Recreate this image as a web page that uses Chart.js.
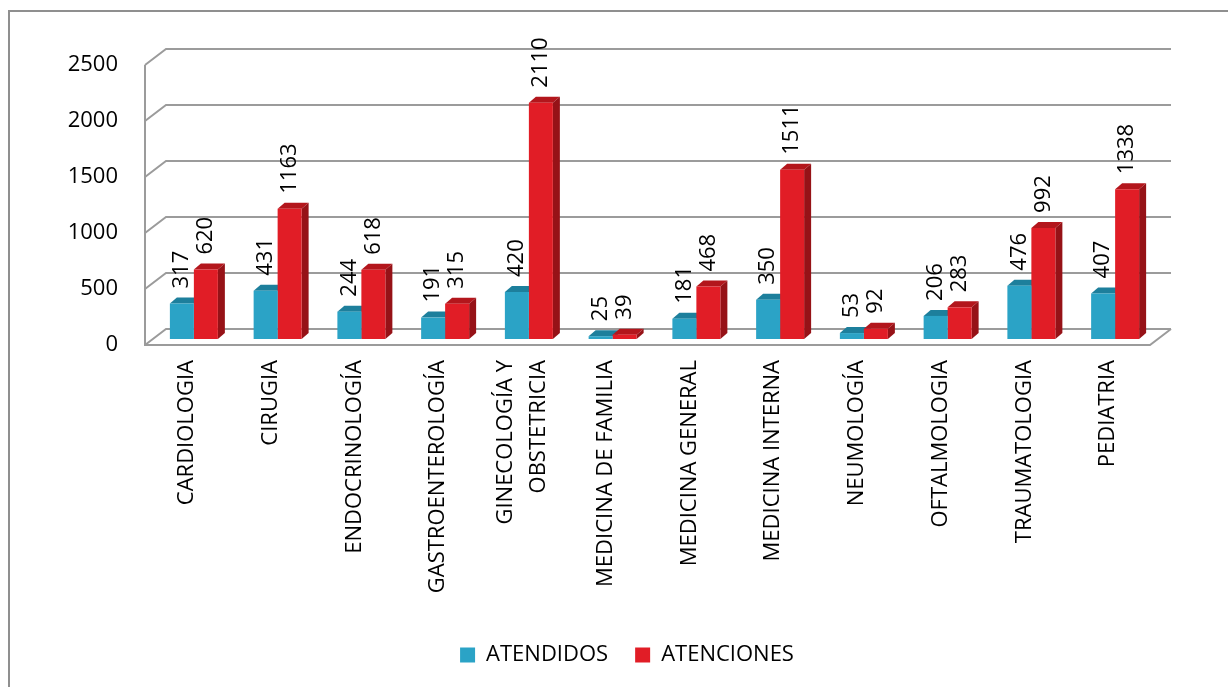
<!DOCTYPE html>
<html>
<head>
<meta charset="utf-8">
<script src="https://cdn.jsdelivr.net/npm/chart.js@4.4.0/dist/chart.umd.min.js"></script>
<style>
  html, body { margin: 0; padding: 0; background: #fff; }
  canvas { display: block; }
</style>
</head>
<body>
<canvas id="grafico" width="1228" height="687"></canvas>
<script>
// Datos por especialidad
const especialidades = ['CARDIOLOGIA', 'CIRUGIA', 'ENDOCRINOLOGÍA', 'GASTROENTEROLOGÍA', ['GINECOLOGÍA Y', 'OBSTETRICIA'], 'MEDICINA DE FAMILIA', 'MEDICINA GENERAL', 'MEDICINA INTERNA', 'NEUMOLOGÍA', 'OFTALMOLOGIA', 'TRAUMATOLOGIA', 'PEDIATRIA'];
const atendidos = [317, 431, 244, 191, 420, 25, 181, 350, 53, 206, 476, 407];
const atenciones = [620, 1163, 618, 315, 2110, 39, 468, 1511, 92, 283, 992, 1338];
const ticksY = [0, 500, 1000, 1500, 2000, 2500];

const FUENTE = '"Open Sans", "DejaVu Sans", sans-serif';

// Profundidad de las paredes y de las barras (efecto 3D)
const PARED = { dx: 21, dy: -16 };
const BARRA = { dx: 7, dy: -6 };

// Marco gris, posición de la leyenda y etiquetas de dos líneas
const marco = {
    id: 'marco',
    afterLayout(chart) {
        // centrar la leyenda bajo el área de las barras
        chart.legend.left += 32;
        chart.legend.right += 32;
    },
    beforeDraw(chart) {
        const ctx = chart.ctx;
        ctx.save();
        ctx.strokeStyle = '#8f8f8f';
        ctx.lineWidth = 2;
        ctx.beginPath();
        ctx.moveTo(9, chart.height);
        ctx.lineTo(9, 11);
        ctx.lineTo(chart.width, 11);
        ctx.stroke();
        ctx.restore();

        // las etiquetas de dos líneas se centran sobre su categoría
        const x = chart.scales.x;
        x.getLabelItems().forEach(item => {
            if (Array.isArray(item.label) && item.label.length > 1) {
                item.options.translation[0] -= (item.label.length - 1) * item.font.lineHeight / 2;
            }
        });
    }
};

// Paredes, piso, caras laterales y etiquetas de valor
const barras3d = {
    id: 'barras3d',
    beforeDatasetsDraw(chart) {
        const ctx = chart.ctx;
        const a = chart.chartArea;
        const y = chart.scales.y;

        ctx.save();
        ctx.strokeStyle = '#9b9b9b';
        ctx.lineWidth = 2;
        ticksY.forEach(v => {
            const py = y.getPixelForValue(v);
            ctx.beginPath();
            ctx.moveTo(a.left, py);
            ctx.lineTo(a.left + PARED.dx, py + PARED.dy);
            ctx.lineTo(a.right + PARED.dx, py + PARED.dy);
            ctx.stroke();
        });
        ctx.beginPath();
        ctx.moveTo(a.left, y.getPixelForValue(ticksY[ticksY.length - 1]));
        ctx.lineTo(a.left, a.bottom);
        ctx.lineTo(a.right, a.bottom);
        ctx.lineTo(a.right + PARED.dx, a.bottom + PARED.dy);
        ctx.stroke();
        ctx.restore();

        // las barras quedan a media profundidad del piso
        ctx.save();
        ctx.translate(BARRA.dx, BARRA.dy);
        chart.data.datasets.forEach((ds, i) => {
            chart.getDatasetMeta(i).data.forEach(bar => {
                const l = bar.x - bar.width / 2;
                const r = bar.x + bar.width / 2;
                const t = bar.y;
                const b = bar.base;
                ctx.fillStyle = ds.colorTapa;
                ctx.beginPath();
                ctx.moveTo(l, t);
                ctx.lineTo(r, t);
                ctx.lineTo(r + BARRA.dx, t + BARRA.dy);
                ctx.lineTo(l + BARRA.dx, t + BARRA.dy);
                ctx.closePath();
                ctx.fill();
                ctx.fillStyle = ds.colorLado;
                ctx.beginPath();
                ctx.moveTo(r, t);
                ctx.lineTo(r + BARRA.dx, t + BARRA.dy);
                ctx.lineTo(r + BARRA.dx, b + BARRA.dy);
                ctx.lineTo(r, b);
                ctx.closePath();
                ctx.fill();
            });
        });
    },
    afterDatasetsDraw(chart) {
        const ctx = chart.ctx;
        ctx.font = '22px ' + FUENTE;
        ctx.fillStyle = '#000';
        ctx.textAlign = 'left';
        ctx.textBaseline = 'middle';
        chart.data.datasets.forEach((ds, i) => {
            chart.getDatasetMeta(i).data.forEach((bar, j) => {
                ctx.save();
                ctx.translate(bar.x, bar.y - 15);
                ctx.rotate(-Math.PI / 2);
                ctx.fillText(String(ds.data[j]), 0, 0);
                ctx.restore();
            });
        });
        ctx.restore();
    }
};

const ctx = document.getElementById('grafico').getContext('2d');
new Chart(ctx, {
    type: 'bar',
    data: {
        labels: especialidades,
        datasets: [{
            label: 'ATENDIDOS',
            data: atendidos,
            backgroundColor: '#2ba3c6',
            colorTapa: '#1d7f9c',
            colorLado: '#196f88',
            borderWidth: 0,
            clip: false
        }, {
            label: 'ATENCIONES',
            data: atenciones,
            backgroundColor: '#e11d26',
            colorTapa: '#b3161c',
            colorLado: '#961217',
            borderWidth: 0,
            clip: false
        }]
    },
    options: {
        responsive: false,
        animation: false,
        events: [],
        categoryPercentage: 0.573,
        barPercentage: 1,
        layout: { padding: { left: 40, right: 78, top: 65, bottom: 11 } },
        plugins: {
            legend: {
                position: 'bottom',
                labels: {
                    boxWidth: 15,
                    boxHeight: 15,
                    padding: 27,
                    color: '#000',
                    font: { family: FUENTE, size: 22 }
                }
            },
            tooltip: { enabled: false }
        },
        scales: {
            x: {
                grid: { display: false, drawTicks: false },
                border: { display: false },
                ticks: {
                    autoSkip: false,
                    minRotation: 90,
                    maxRotation: 90,
                    padding: 15,
                    color: '#000',
                    font: { family: FUENTE, size: 22, lineHeight: 1.5 }
                },
                afterFit(scale) { scale.height = 272; }
            },
            y: {
                min: ticksY[0],
                max: ticksY[ticksY.length - 1],
                grid: { display: false, drawTicks: false },
                border: { display: false },
                ticks: {
                    stepSize: ticksY[1] - ticksY[0],
                    padding: 27,
                    color: '#000',
                    font: { family: FUENTE, size: 22 },
                    callback: v => String(v)
                },
                afterFit(scale) { scale.width = 105; }
            }
        }
    },
    plugins: [marco, barras3d]
});
</script>
</body>
</html>
